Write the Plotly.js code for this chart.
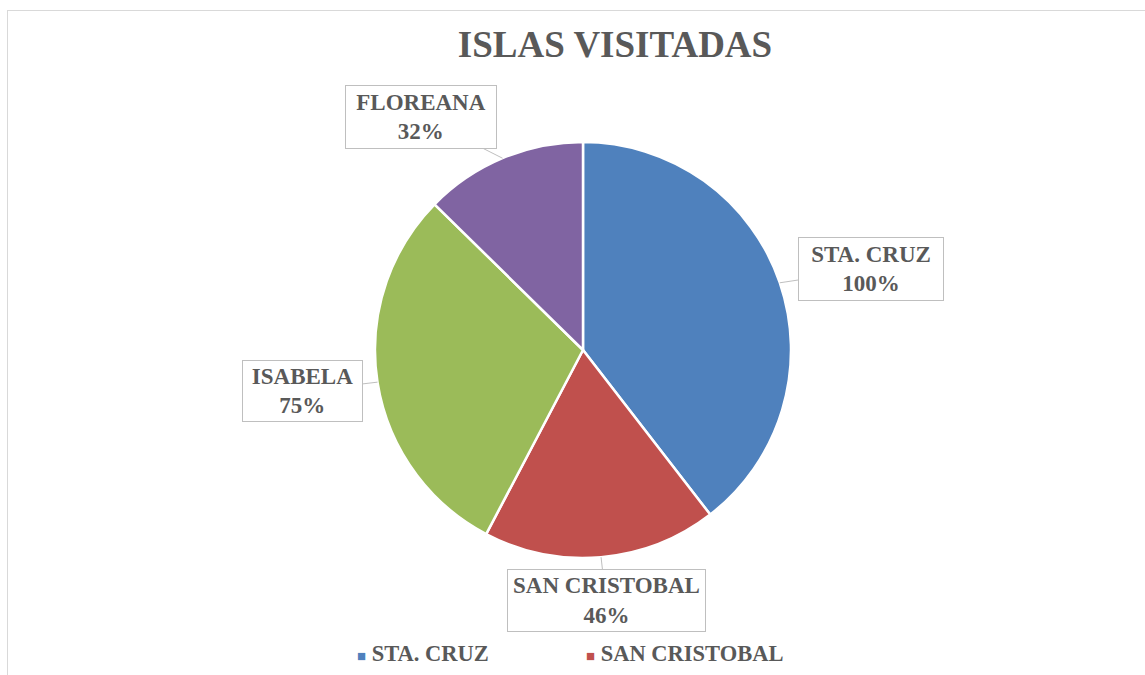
<!DOCTYPE html>
<html>
<head>
<meta charset="utf-8">
<script src="https://cdn.plot.ly/plotly-3.0.1.min.js"></script>
<style>
  html, body { margin: 0; padding: 0; overflow: hidden; background: #ffffff; }
  #chart { position: absolute; left: 0; top: 0; width: 1145px; height: 675px; }
  #frame { position: absolute; left: 7px; top: 10px; width: 1300px; height: 900px;
           border: 1px solid #d9d9d9; pointer-events: none; z-index: 5; }
</style>
</head>
<body>
<div id="chart"></div>
<div id="frame"></div>
<script>
// ---- data ----
const categories = ['STA. CRUZ', 'SAN CRISTOBAL', 'ISABELA', 'FLOREANA'];
const values = [100, 46, 75, 32];
const valueLabels = ['100%', '46%', '75%', '32%'];
const colors = ['#4F81BD', '#C0504D', '#9BBB59', '#8064A2'];
// legend entries visible in the (cropped) reference
const legendVisible = [true, true, false, false];

// ---- label box layout (pixel offsets of box centre from pie centre, box sizes) ----
const labelDX = [288, 23, -281, -162];
const labelDY = [-81, 250, 41, -233];
const boxW = [146, 199, 121, 152];
const boxH = [64, 63, 62, 64];

const W = 1145, H = 675;
const margin = { l: 328, r: 307, t: 142, b: H - 558 };
const plotW = W - margin.l - margin.r;
const plotH = H - margin.t - margin.b;
const R = Math.min(plotW, plotH) / 2;
const toPX = px => (px - margin.l) / plotW;
const toPY = py => 1 - (py - margin.t) / plotH;

const FONT = 'Liberation Serif, Times New Roman, serif';
const GREY = '#595959';

const total = values.reduce((a, b) => a + b, 0);
let cum = 0;
const annotations = categories.map((c, i) => {
  const mid = (cum + values[i] / 2) / total * 2 * Math.PI;
  cum += values[i];
  const sx = R * Math.sin(mid), sy = R * Math.cos(mid);
  const pad = 2;
  return {
    xref: 'paper', yref: 'paper',
    x: 0.5 + sx / plotW, y: 0.5 + sy / plotH,
    axref: 'pixel', ayref: 'pixel',
    ax: labelDX[i] - sx, ay: labelDY[i] + sy,
    showarrow: true, arrowhead: 0, arrowwidth: 1, arrowcolor: '#bfbfbf', standoff: 0,
    text: c + '<br>' + valueLabels[i],
    font: { family: FONT, size: 23, color: GREY, weight: 'bold' },
    align: 'center',
    bgcolor: '#ffffff', bordercolor: '#bfbfbf', borderwidth: 1, borderpad: pad,
    width: boxW[i] - 2 * pad - 2, height: boxH[i] - 2 * pad - 2
  };
});

// legend (only the entries visible in the cropped reference)
const legendX0 = 355, legendStep = 229, legendY = 653;
let k = 0;
categories.forEach((c, i) => {
  if (!legendVisible[i]) return;
  annotations.push({
    xref: 'paper', yref: 'paper',
    x: toPX(legendX0 + k * legendStep), y: toPY(legendY),
    xanchor: 'left', yanchor: 'middle', showarrow: false,
    text: '<span style="color:' + colors[i] + ';font-size:15px">\u25A0</span> ' + c,
    font: { family: FONT, size: 22.5, color: GREY, weight: 'bold' }
  });
  k++;
});

const trace = {
  type: 'pie',
  labels: categories,
  values: values,
  sort: false,
  direction: 'clockwise',
  rotation: 0,
  marker: { colors: colors, line: { color: '#ffffff', width: 2.5 } },
  textinfo: 'none',
  hoverinfo: 'label+value',
  domain: { x: [0, 1], y: [0, 1] }
};

const layout = {
  width: W, height: H,
  margin: margin,
  paper_bgcolor: '#ffffff',
  plot_bgcolor: '#ffffff',
  title: {
    text: 'ISLAS VISITADAS',
    font: { family: FONT, size: 37, color: GREY, weight: 'bold' },
    x: 615 / W, xanchor: 'center',
    yref: 'container', y: 1 - 44 / H, yanchor: 'middle'
  },
  showlegend: false,
  annotations: annotations
};

Plotly.newPlot('chart', [trace], layout, { displayModeBar: false, staticPlot: true });
</script>
</body>
</html>
